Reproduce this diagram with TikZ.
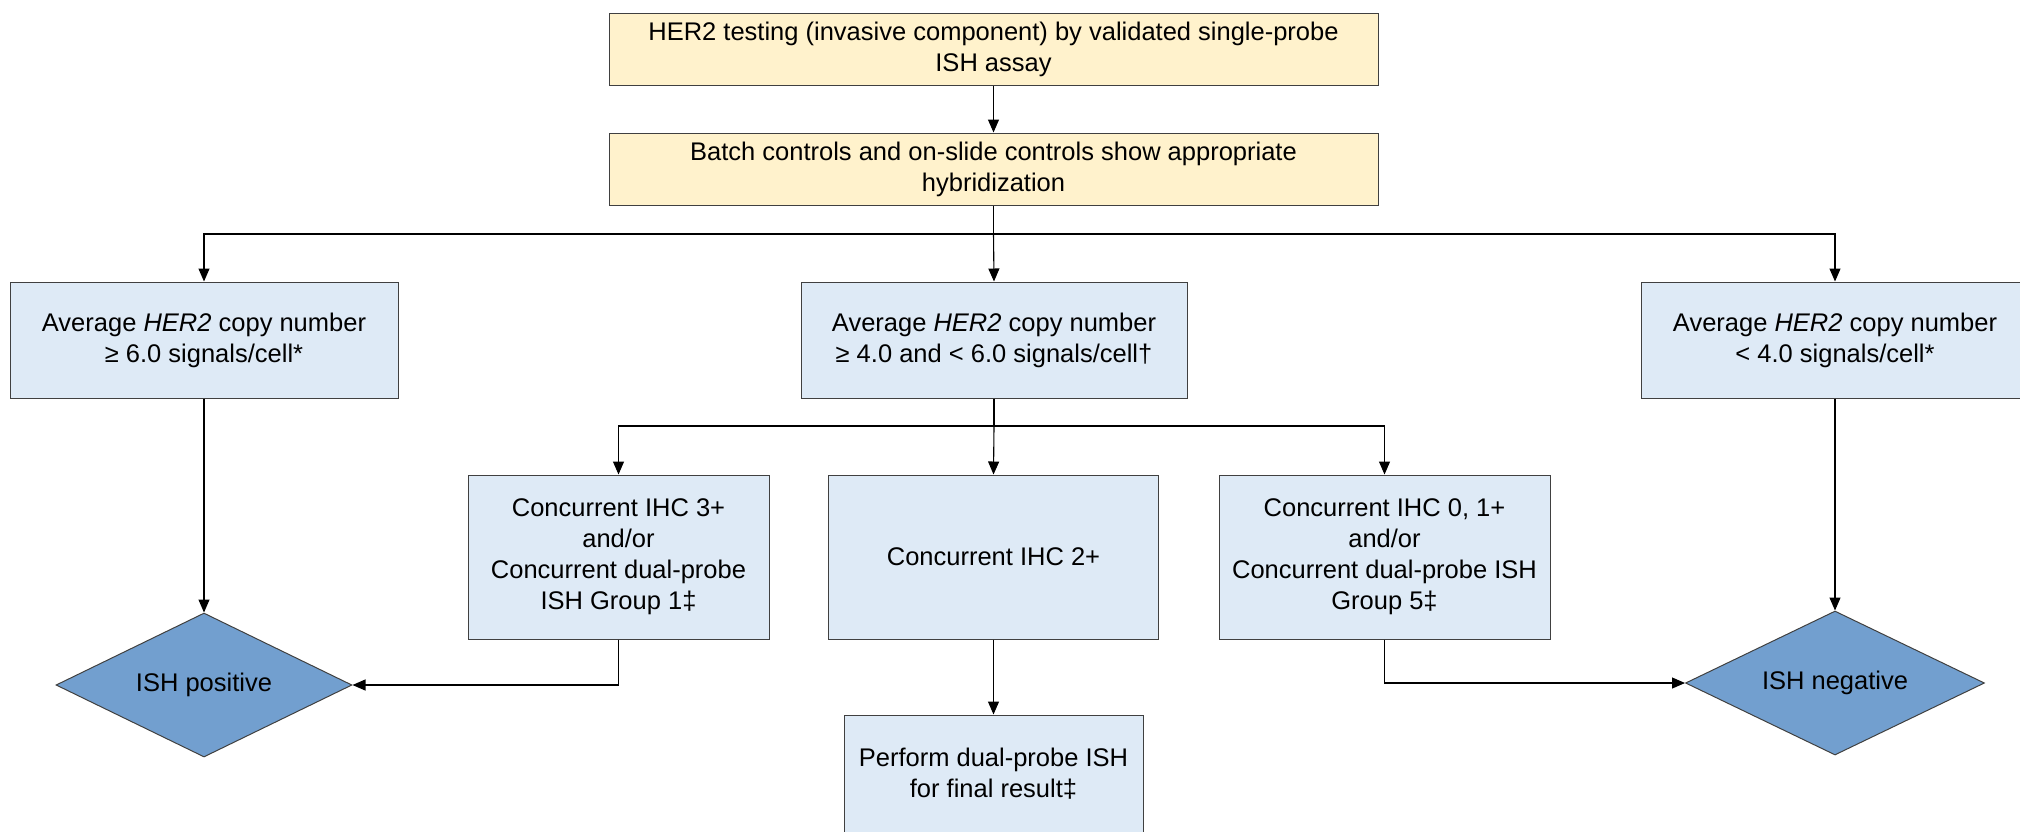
\documentclass[tikz,border=0pt]{standalone}
\usepackage{fontspec}
\setmainfont{Liberation Sans}
\usetikzlibrary{shapes.geometric,arrows.meta}
\definecolor{ybox}{HTML}{FFF2CC}
\definecolor{bbox}{HTML}{DEEAF6}
\definecolor{dfill}{HTML}{729FCF}
\definecolor{bord}{HTML}{404040}
\tikzset{
  base/.style={draw=bord,line width=1pt,align=center,inner sep=0pt,
    font=\fontsize{25.5}{31}\selectfont,text=black},
  ybx/.style={base,rectangle,fill=ybox,minimum width=769pt,minimum height=72pt},
  bbx/.style={base,rectangle,fill=bbox},
  dia/.style={base,diamond,fill=dfill,aspect=2.06},
  conn/.style={line width=1.1pt,draw=black},
  arr/.style={conn,-{Triangle[width=11pt,length=13pt]}}
}
\begin{document}
\begin{tikzpicture}[x=1pt,y=-1pt]
\useasboundingbox (0,0) rectangle (2020,831);
\clip (0,0) rectangle (2020,831);
\node[ybx] (t1) at (993.5,49) {HER2 testing (invasive component) by validated single-probe\\ISH assay};
\node[ybx] (t2) at (993.5,169) {Batch controls and on-slide controls show appropriate\\hybridization};
\node[bbx,minimum width=388pt,minimum height=116pt] (l) at (204,340) {Average \textit{HER2} copy number\\≥ 6.0 signals/cell*};
\node[bbx,minimum width=386pt,minimum height=116pt] (m) at (994,340) {Average \textit{HER2} copy number\\≥ 4.0 and < 6.0 signals/cell†};
\node[bbx,minimum width=388pt,minimum height=116pt] (r) at (1835,340) {Average \textit{HER2} copy number\\< 4.0 signals/cell*};
\node[bbx,minimum width=301pt,minimum height=164pt] (c3) at (618.5,557) {Concurrent IHC 3+\\and/or\\Concurrent dual-probe\\ISH Group 1‡};
\node[bbx,minimum width=330pt,minimum height=164pt] (c2) at (993.5,557) {Concurrent IHC 2+};
\node[bbx,minimum width=331pt,minimum height=164pt] (c0) at (1384.5,557) {Concurrent IHC 0, 1+\\and/or\\Concurrent dual-probe ISH\\Group 5‡};
\node[bbx,minimum width=299pt,minimum height=118pt] (pf) at (993.5,774) {Perform dual-probe ISH\\for final result‡};
\node[dia,minimum width=296pt,minimum height=144pt] (pos) at (204,685) {ISH positive};
\node[dia,minimum width=299pt,minimum height=144pt] (neg) at (1835,683) {ISH negative};
\coordinate (j1) at (993.5,234);
\coordinate (j2) at (994,426);
\draw[arr] (t1) -- (t2);
\draw[conn] (t2.south) -- (j1);
\draw[arr] (j1) -| (l.north);
\draw[arr] (j1) -- (m.north);
\draw[arr] (j1) -| (r.north);
\draw[conn] (m.south) -- (j2);
\draw[arr] (j2) -| (c3.north);
\draw[arr] (j2) -- (c2.north);
\draw[arr] (j2) -| (c0.north);
\draw[arr] (c2) -- (pf);
\draw[arr] (l) -- (pos.north);
\draw[arr] (r) -- (neg.north);
\draw[arr] (c3.south) |- (pos.east);
\draw[arr] (c0.south) |- (neg.west);
\end{tikzpicture}
\end{document}
